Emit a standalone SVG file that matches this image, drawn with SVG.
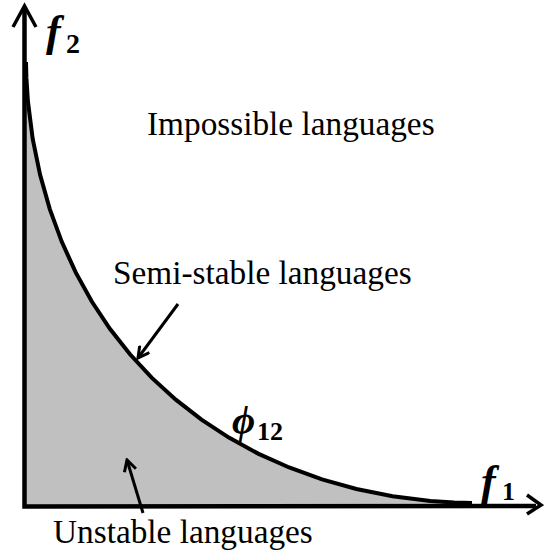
<svg xmlns="http://www.w3.org/2000/svg" width="544" height="556" viewBox="0 0 544 556">
<defs>
<style>
.axis{fill:none;stroke:#000;stroke-width:4.5}
.head{fill:none;stroke:#000;stroke-width:3.5;stroke-linejoin:miter}
.curve{fill:none;stroke:#000;stroke-width:4}
.ptr{fill:none;stroke:#000;stroke-width:3}
text{font-family:'Liberation Serif',serif;fill:#000}
.lbl{font-size:33.3px}
.var{font-style:italic;font-weight:bold}
.sub{font-weight:bold}
</style>
<marker id="chev" viewBox="0 0 14 14" refX="12" refY="7" markerWidth="14" markerHeight="14" markerUnits="userSpaceOnUse" orient="auto">
<polyline points="1,1 12,7 1,13" fill="none" stroke="#000" stroke-width="3"/>
</marker>
</defs>
<g id="region">
<path d="M26,62 L26.4,77.9 L27.9,101.3 L32.7,138.9 L40.1,174.8 L49.8,209.1 L61.7,241.6 L75.7,272.4 L91.8,301.5 L109.9,328.8 L130,354.3 L151.9,377.9 L175.8,399.7 L201.5,419.7 L228.9,437.6 L258.1,453.6 L289.2,467.5 L322,479.4 L356.4,489 L392.6,496.3 L430.4,501.1 L454,502.6 L470,503 L470,506 L24,506 L24,62 Z" fill="#c0c0c0"/>
</g>
<g id="axes">
<polyline class="axis" points="24.5,8 24.5,506.5 536,506"/>
<polyline class="head" points="13,27 24.5,6 36,27"/>
<polyline class="head" points="527,495 541,505 527,514"/>
</g>
<g id="curve">
<path class="curve" d="M26,62 L26.4,77.9 L27.9,101.3 L32.7,138.9 L40.1,174.8 L49.8,209.1 L61.7,241.6 L75.7,272.4 L91.8,301.5 L109.9,328.8 L130,354.3 L151.9,377.9 L175.8,399.7 L201.5,419.7 L228.9,437.6 L258.1,453.6 L289.2,467.5 L322,479.4 L356.4,489 L392.6,496.3 L430.4,501.1 L454,502.6 L472,503"/>
</g>
<g id="connectors">
<line class="ptr" x1="178" y1="304" x2="138" y2="358" marker-end="url(#chev)"/>
<line class="ptr" x1="143" y1="513" x2="127" y2="460" marker-end="url(#chev)"/>
</g>
<g id="label-impossible"><text class="lbl" x="147" y="135">Impossible languages</text></g>
<g id="label-semistable"><text class="lbl" x="113" y="284">Semi-stable languages</text></g>
<g id="label-unstable"><text class="lbl" x="53" y="543">Unstable languages</text></g>
<g id="label-f2"><text class="var" x="46" y="46" font-size="44">f</text><text class="sub" x="66" y="53" font-size="28">2</text></g>
<g id="label-f1"><text class="var" x="481" y="496" font-size="44">f</text><text class="sub" x="502" y="500" font-size="26">1</text></g>
<g id="label-phi"><text class="var" x="232" y="433" font-size="40" font-weight="normal">ϕ</text><text class="sub" x="257" y="440" font-size="26">12</text></g>
</svg>
